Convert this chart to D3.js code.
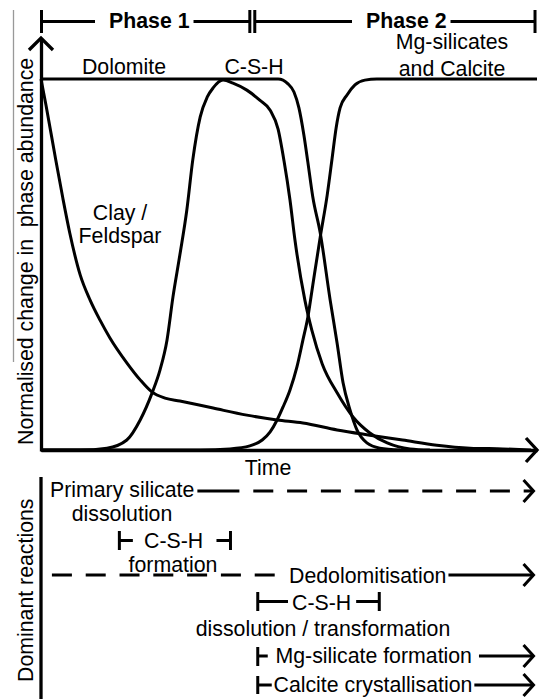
<!DOCTYPE html>
<html>
<head>
<meta charset="utf-8">
<script src="https://cdn.jsdelivr.net/npm/d3@7"></script>
<style>
  body { margin: 0; background: #fff; }
  svg { display: block; }
  text { font-family: "Liberation Sans", Arial, sans-serif; font-size: 21.3px; fill: #000; }
</style>
</head>
<body>
<div id="chart"></div>
<script>
// time runs 0..100, abundance is normalised 0..1
var clayT = [0, 1.0, 2.8, 4.4, 5.8, 7.9, 9.9, 11.9, 13.9, 17.3, 20.0, 22.4, 25.0, 28.0, 34.7, 41.5, 47.6, 52.8, 59.7, 66.3, 72.9, 79.8, 86.5, 93.1, 98.8];
var clayV = [1, .930, .795, .679, .585, .472, .404, .350, .302, .235, .189, .156, .140, .132, .113, .094, .081, .073, .054, .040, .027, .013, .005, .003, 0];

var cshT = [0, 7.9, 13.3, 17.3, 20.0, 22.4, 24.0, 25.4, 26.6, 28.0, 29.4, 30.6, 32.1, 33.5, 34.7, 36.7, 38.7, 41.5, 44.1, 46.2, 47.8, 49.0, 50.2, 51.2, 53.2, 54.6, 56.7, 59.7, 62.9, 66.3, 69.8, 74.4, 78.4];
var cshV = [0, 0, .005, .027, .081, .154, .216, .296, .412, .526, .647, .782, .898, .951, .976, .997, .989, .970, .943, .916, .865, .779, .674, .566, .404, .323, .232, .154, .089, .046, .019, .003, 0];

var dolT = [0, 36.7, 44.2, 47.8, 49.8, 51.0, 52.0, 53.0, 53.8, 54.8, 56.3, 58.3, 59.7, 60.9, 62.3, 63.7, 65.7, 68.3, 72.4];
var dolV = [1, 1, 1, 1, .987, .965, .922, .849, .776, .682, .585, .404, .288, .181, .108, .054, .019, .005, 0];

var mgT = [0, 32.1, 38.1, 42.1, 44.6, 46.2, 47.6, 48.8, 50.2, 51.6, 52.8, 53.8, 54.8, 56.3, 57.7, 58.7, 59.5, 60.3, 61.7, 63.3, 65.3, 67.7, 100];
var mgV = [0, 0, .003, .011, .027, .049, .081, .116, .162, .224, .296, .358, .445, .574, .687, .787, .868, .922, .957, .984, .997, 1, 1];

var phases = ["Phase 1", "Phase 2"];
var phaseStart = [0.1, 43.1];
var phaseEnd = [42.1, 99.6];

var reactions = ["Primary silicate", "C-S-H", "Dedolomitisation", "C-S-H", "Mg-silicate formation", "Calcite crystallisation"];
var reactionStart = [0, 15.8, 2.2, 43.7, 43.7, 43.7];
var reactionEnd = [99.3, 38.2, 99.3, 68.2, 99.3, 99.3];

var W = 541, H = 699;
var svg = d3.select("#chart").append("svg").attr("width", W).attr("height", H);

var x = d3.scaleLinear().domain([0, 100]).range([41, 537]);
var y = d3.scaleLinear().domain([0, 1]).range([450, 79]);

function seg(x1, y1, x2, y2, w, dash) {
  var l = svg.append("line").attr("x1", x1).attr("y1", y1).attr("x2", x2).attr("y2", y2)
    .attr("stroke", "#000").attr("stroke-width", w || 3);
  if (dash) l.attr("stroke-dasharray", dash);
  return l;
}
function chevron(tx, ty, back, half, w) {
  svg.append("path").attr("d", "M" + (tx - back) + "," + (ty - half) + "L" + tx + "," + ty + "L" + (tx - back) + "," + (ty + half))
    .attr("fill", "none").attr("stroke", "#000").attr("stroke-width", w || 3);
}
function label(str, tx, ty, anchor, bold) {
  var t = svg.append("text").attr("x", tx).attr("y", ty).attr("text-anchor", anchor || "start")
    .style("white-space", "pre").text(str);
  if (bold) t.style("font-weight", "bold");
  return t.node().getComputedTextLength();
}

// phase bar on top
var pTextX = [109, 366];
phases.forEach(function(p, i) {
  var a = x(phaseStart[i]), b = x(phaseEnd[i]);
  var w = label(p, pTextX[i], 28, "start", true);
  seg(a, 10, a, 33);
  seg(b, 10, b, 33);
  seg(a, 21.5, pTextX[i] - 14, 21.5);
  seg(pTextX[i] + w + 4, 21.5, b, 21.5);
});

// axes
var gx = svg.append("g").attr("transform", "translate(0," + y(0) + ")")
  .call(d3.axisBottom(x).tickValues([]).tickSizeOuter(0));
var yTop = y.copy().domain([0, y.invert(38)]).range([451, 38]);
var gy = svg.append("g").attr("transform", "translate(" + x(0) + ",0)")
  .call(d3.axisLeft(yTop).tickValues([]).tickSizeOuter(0));
svg.selectAll(".domain").attr("stroke", "#000").attr("stroke-width", 3.3);
chevron(x(100), y(0), 11, 12, 3.3);
svg.append("path").attr("d", "M" + (x(0) - 12) + ",50L" + x(0) + ",38L" + (x(0) + 12) + ",50")
  .attr("fill", "none").attr("stroke", "#000").attr("stroke-width", 3.3);

// curves
var line = d3.line().x(function(d) { return x(d[0]); }).y(function(d) { return y(d[1]); }).curve(d3.curveMonotoneX);
[[clayT, clayV], [cshT, cshV], [dolT, dolV], [mgT, mgV]].forEach(function(s) {
  svg.append("path").datum(d3.zip(s[0], s[1])).attr("d", line)
    .attr("fill", "none").attr("stroke", "#000").attr("stroke-width", 3);
});

// curve labels
label("Dolomite", 124, 74, "middle");
label("C-S-H", 254, 74, "middle");
label("Mg-silicates", 452, 48.5, "middle");
label("and Calcite", 452, 75.5, "middle");
label("Clay /", 120, 220, "middle");
label("Feldspar", 120, 243, "middle");
label("Time", 268, 475, "middle");

// y axis title
svg.append("text").attr("transform", "translate(33,445) rotate(-90)").style("white-space", "pre")
  .text("Normalised change in  phase abundance");
svg.append("line").attr("x1", 13.5).attr("x2", 13.5).attr("y1", 10).attr("y2", 362)
  .attr("stroke", "#999").attr("stroke-width", 1.3);

// lower panel: dominant reactions
seg(x(0), 477, x(0), 699, 3.3);
svg.append("text").attr("transform", "translate(33,682) rotate(-90)").text("Dominant reactions");
var dash = "20 13.8";

// primary silicate dissolution (slows down later: dashed)
var w0 = label(reactions[0], 50, 496.5);
seg(50 + w0 + 3, 491, x(40), 491);
seg(x(42.8), 491, x(reactionEnd[0]), 491, 3, dash);
chevron(x(reactionEnd[0]), 491, 10, 11);
label("dissolution", 122, 520.5, "middle");

// C-S-H formation
var a1 = x(reactionStart[1]), b1 = x(reactionEnd[1]);
seg(a1, 531, a1, 550); seg(b1, 531, b1, 550);
var w1 = label(reactions[1], 144, 547.5);
seg(a1, 540.5, a1 + 13.5, 540.5);
seg(b1 - 14, 540.5, b1, 540.5);
label("formation", 173, 572, "middle");

// dedolomitisation (minor first, dominant later)
var w2 = label(reactions[2], 289, 583);
seg(x(reactionStart[2]), 575, x(47.2), 575, 3, dash);
seg(289 + w2 + 2, 575, x(reactionEnd[2]), 575);
chevron(x(reactionEnd[2]), 575, 10, 11);

// C-S-H dissolution / transformation
var a3 = x(reactionStart[3]), b3 = x(reactionEnd[3]);
seg(a3, 592, a3, 611); seg(b3, 592, b3, 611);
var w3 = label(reactions[3], 292, 609.5);
seg(a3, 601.5, 288, 601.5);
seg(292 + w3 + 5, 601.5, b3, 601.5);
label("dissolution / transformation", 323, 635.5, "middle");

// Mg-silicate formation
var a4 = x(reactionStart[4]);
seg(a4, 647, a4, 666);
seg(a4, 656, a4 + 10, 656);
var w4 = label(reactions[4], 275.5, 662.5);
seg(275.5 + w4 + 7, 656, x(reactionEnd[4]), 656);
chevron(x(reactionEnd[4]), 656, 10, 11);

// Calcite crystallisation
var a5 = x(reactionStart[5]);
seg(a5, 676, a5, 694);
seg(a5, 685, a5 + 14, 685);
var w5 = label(reactions[5], 273.5, 691.5);
seg(273.5 + w5 + 2, 685, x(reactionEnd[5]), 685);
chevron(x(reactionEnd[5]), 685, 10, 11);
</script>
</body>
</html>
